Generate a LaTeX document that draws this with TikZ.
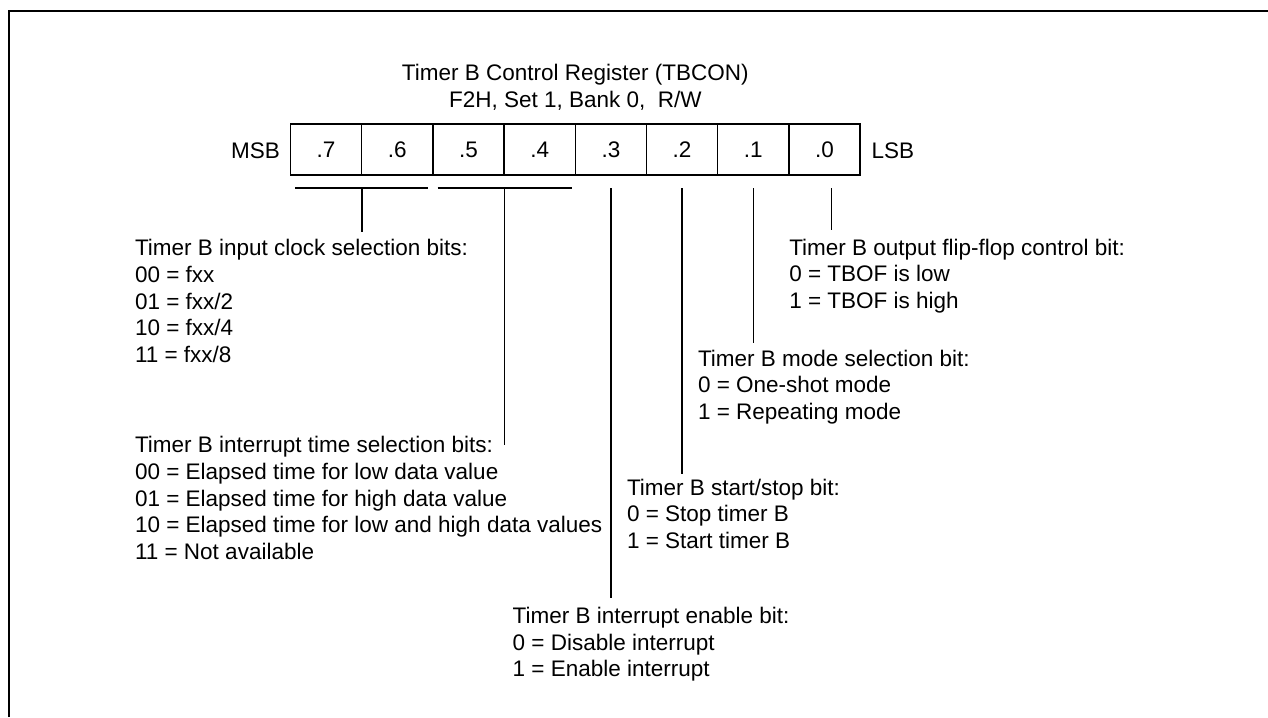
\documentclass[tikz,border=0pt]{standalone}
\usepackage{fontspec}
\setmainfont{Liberation Sans}
\begin{document}
\begin{tikzpicture}[x=1pt,y=-1pt,
  every node/.style={inner sep=0pt,outer sep=0pt,font=\fontsize{22.5}{26.7}\selectfont},
  bitcell/.style={draw,line width=1.3pt,minimum width=71.2pt,minimum height=51pt},
  lead/.style={line width=1.3pt},
  frame/.style={line width=2.2pt},
  desc/.style={anchor=base west}]
\useasboundingbox (0,0) rectangle (1268,717);
\draw[frame] (9,717) -- (9,11) -- (1268,11);
% title
\node[anchor=base] (title) at (575.3,81) {\begin{tabular}[t]{@{}c@{}}Timer B Control Register (TBCON)\\F2H, Set 1, Bank 0,\ \ R/W\end{tabular}};
% cells
\foreach \i in {7,...,0}{
  \node[bitcell] (b\i) at ({290.5+71.2*(7-\i)+35.6},149.5) {.\i};
}
\node[anchor=base east] (msb) at (280,158.3) {MSB};
\node[anchor=base west] (lsb) at (871.7,158.3) {LSB};
% brackets
\coordinate (k1a) at (295,188);
\coordinate (k1b) at (428,188);
\coordinate (k2a) at (437.7,188);
\coordinate (k2b) at (571.7,188);
\draw[lead] (k1a) -- (k1b);
\draw[lead] (k2a) -- (k2b);
\coordinate (k1m) at (362,188);
\coordinate (k2m) at (504.7,188);
\coordinate (e1) at (362,231.7);
\coordinate (e2) at (504.7,445);
\draw[lead] (k1m) -- (e1);
\draw[lead] (k2m) -- (e2);
% bit leaders
\coordinate (s3) at (b3.center |- 0,188);
\coordinate (s2) at (b2.center |- 0,188);
\coordinate (s1) at (b1.center |- 0,188);
\coordinate (s0) at (831.5,188);
\coordinate (e3) at (b3.center |- 0,598);
\coordinate (e4) at (b2.center |- 0,474);
\coordinate (e5) at (b1.center |- 0,343);
\coordinate (e6) at (831.5,230);
\draw[lead] (s3) -- (e3);
\draw[lead] (s2) -- (e4);
\draw[lead] (s1) -- (e5);
\draw[lead] (s0) -- (e6);
% descriptions
\node[desc] (dclk) at (135,255.7) {\begin{tabular}[t]{@{}l@{}}Timer B input clock selection bits:\\00 = fxx\\01 = fxx/2\\10 = fxx/4\\11 = fxx/8\end{tabular}};
\node[desc] (dint) at (135,452.7) {\begin{tabular}[t]{@{}l@{}}Timer B interrupt time selection bits:\\00 = Elapsed time for low data value\\01 = Elapsed time for high data value\\10 = Elapsed time for low and high data values\\11 = Not available\end{tabular}};
\node[desc] (den) at (512.7,623.3) {\begin{tabular}[t]{@{}l@{}}Timer B interrupt enable bit:\\0 = Disable interrupt\\1 = Enable interrupt\end{tabular}};
\node[desc] (dss) at (627,495) {\begin{tabular}[t]{@{}l@{}}Timer B start/stop bit:\\0 = Stop timer B\\1 = Start timer B\end{tabular}};
\node[desc] (dmode) at (698,366) {\begin{tabular}[t]{@{}l@{}}Timer B mode selection bit:\\0 = One-shot mode\\1 = Repeating mode\end{tabular}};
\node[desc] (dff) at (789.3,255) {\begin{tabular}[t]{@{}l@{}}Timer B output flip-flop control bit:\\0 = TBOF is low\\1 = TBOF is high\end{tabular}};
\end{tikzpicture}
\end{document}
